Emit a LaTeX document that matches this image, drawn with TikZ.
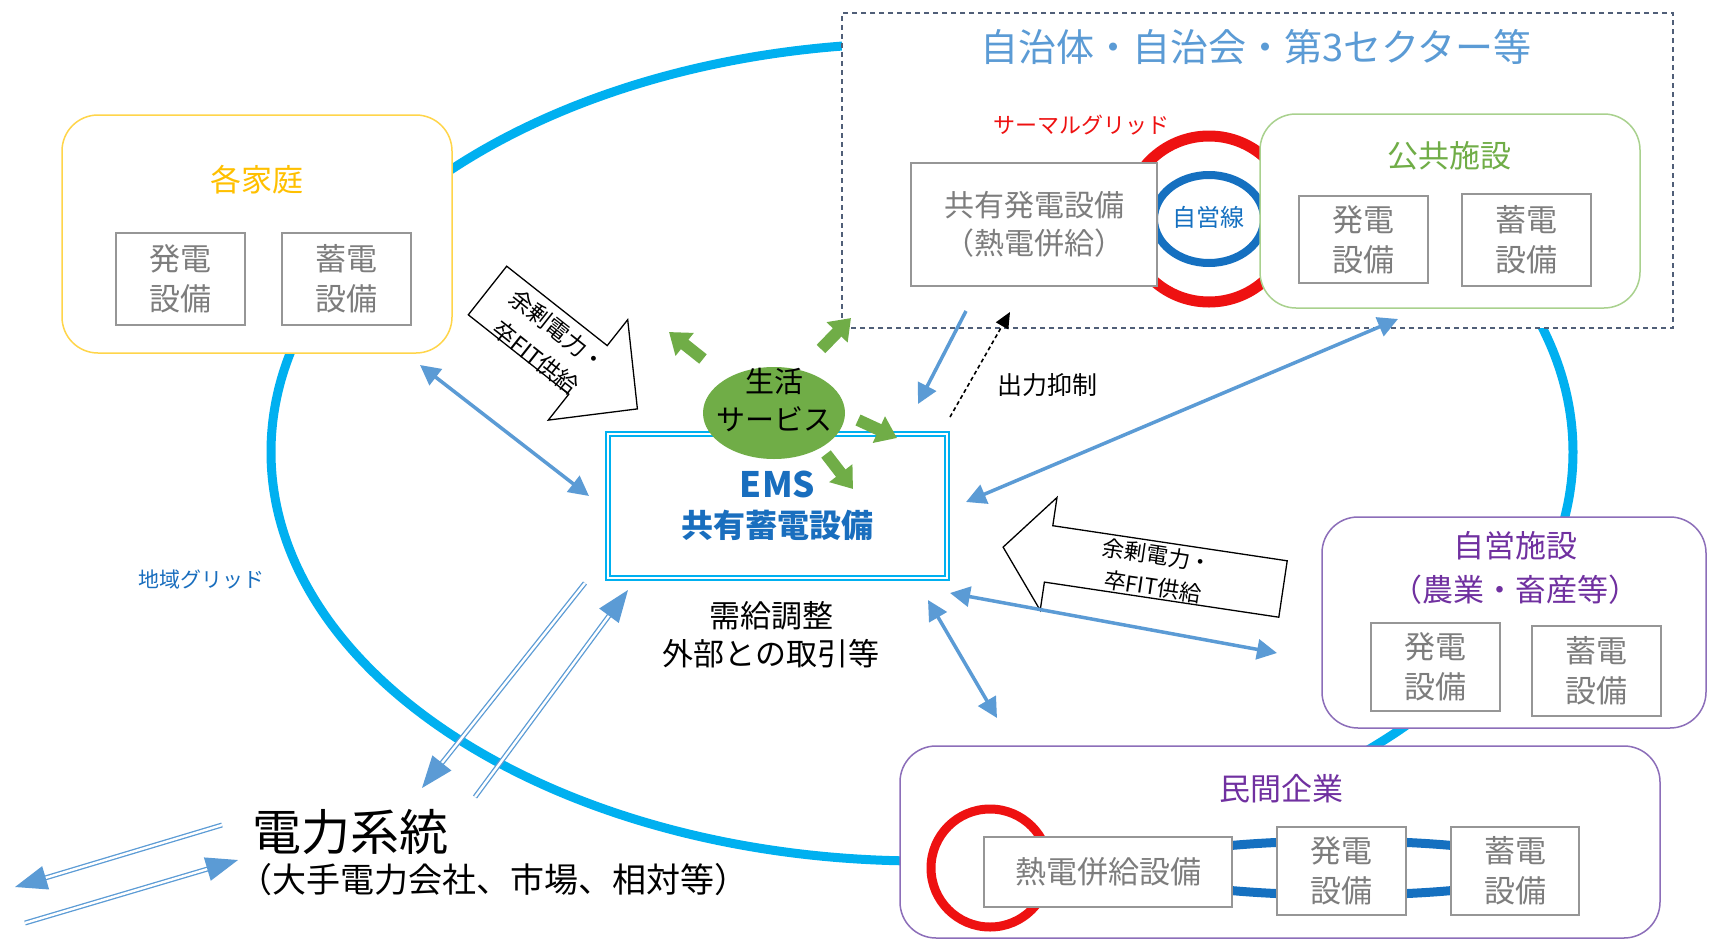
\documentclass[tikz,border=0pt]{standalone}
\usepackage{fontspec}
\setmainfont{Noto Sans CJK JP}
\usetikzlibrary{arrows.meta,shapes.geometric}
\newcommand{\myfs}[2]{\fontsize{#1}{#2}\selectfont}
\definecolor{gridcyan}{HTML}{00B0F0}
\definecolor{boxgrey}{RGB}{150,150,150}
\definecolor{txtgrey}{RGB}{125,125,125}
\definecolor{homeyel}{HTML}{FFD54A}
\definecolor{hometxt}{HTML}{FFC000}
\definecolor{pubgreen}{HTML}{A9D18E}
\definecolor{pubtxt}{HTML}{70AD47}
\definecolor{purpb}{RGB}{140,110,185}
\definecolor{purpt}{HTML}{7030A0}
\definecolor{titleblue}{HTML}{5B9BD5}
\definecolor{dashc}{RGB}{80,95,120}
\definecolor{ringred}{HTML}{EE1111}
\definecolor{ringblue}{HTML}{1570C0}
\definecolor{emsblue}{RGB}{25,110,190}
\definecolor{connblue}{HTML}{5B9BD5}
\definecolor{lifegreen}{HTML}{70AD47}
\begin{document}
\begin{tikzpicture}[x=1pt,y=-1pt,
  every node/.style={inner sep=0pt},
  gbox/.style={draw=boxgrey, line width=1.4pt, fill=white, text=txtgrey, align=center, font=\myfs{31}{40}},
  rbox/.style={rounded corners=36pt, fill=white, line width=1.5pt},
  conn/.style={draw=connblue, line width=3.5pt, >={Triangle[width=20pt,length=20pt]}},
  dbl/.style={draw=connblue, double=white, double distance=2.4pt, line width=1.3pt, -{Triangle[width=24pt,length=32pt]}},
  garr/.style={draw=lifegreen, line width=12pt, -{Triangle[width=28pt,length=20pt]}},
  supp/.style={draw=black, dash pattern=on 4pt off 3pt, line width=1.6pt, -{Triangle[width=14pt,length=16pt]}},
  blockarr/.style={draw=black, fill=white, line width=1.3pt, line join=miter}]
\fill[white] (0,0) rectangle (1709,940);
\useasboundingbox (0,0) rectangle (1709,940);

% regional grid
\draw[gridcyan, line width=9pt] (922,452) ellipse [x radius=651, y radius=409];

% municipality area
\node[draw=dashc, dash pattern=on 5pt off 4pt, line width=1.2pt, fill=white, minimum width=831pt, minimum height=315pt] (muni) at (1257.5,170.5) {};
\node[text=titleblue, font=\myfs{38}{44}] (munit) at (1256,47) {自治体・自治会・第3セクター等};
\draw[ringred, line width=11pt] (1209,219) circle [radius=83];
\draw[ringblue, line width=8pt] (1209,219) ellipse [x radius=55, y radius=44];
\node[text=ringblue, font=\myfs{24}{28}] (jiei) at (1208,217) {自営線};
\node[text=ringred, font=\myfs{22}{26}] (thermal) at (1081,125) {サーマルグリッド};
\node[gbox, minimum width=246pt, minimum height=123pt, font=\myfs{30}{38}] (share) at (1034,224.5) {共有発電設備\\（熱電併給）};
\node[rbox, draw=pubgreen, minimum width=380pt, minimum height=194pt] (pub) at (1450,211) {};
\node[text=pubtxt, font=\myfs{31}{36}] (pubt) at (1449,156) {公共施設};
\node[gbox, minimum width=129pt, minimum height=87pt] (pub1) at (1363.5,239.5) {発電\\設備};
\node[gbox, minimum width=129pt, minimum height=92pt] (pub2) at (1526.5,240) {蓄電\\設備};

% households
\node[rbox, draw=homeyel, minimum width=390pt, minimum height=238pt] (home) at (257,234) {};
\node[text=hometxt, font=\myfs{31}{36}] (homet) at (257,180) {各家庭};
\node[gbox, minimum width=129pt, minimum height=92pt] (home1) at (180.5,279) {発電\\設備};
\node[gbox, minimum width=129pt, minimum height=92pt] (home2) at (346.5,279) {蓄電\\設備};

% self-operated facility
\node[rbox, draw=purpb, minimum width=384pt, minimum height=211pt] (self) at (1514,622.5) {};
\node[text=purpt, font=\myfs{31}{44}, align=center] (selft) at (1515,568) {自営施設\\（農業・畜産等）};
\node[gbox, minimum width=129pt, minimum height=88pt] (self1) at (1435.5,667) {発電\\設備};
\node[gbox, minimum width=129pt, minimum height=90pt] (self2) at (1596.5,671) {蓄電\\設備};

% private company
\node[rbox, draw=purpb, minimum width=760pt, minimum height=192pt] (priv) at (1280,842) {};
\node[text=purpt, font=\myfs{31}{36}] (privt) at (1281,789) {民間企業};
\draw[ringred, line width=9pt] (990,868) circle [radius=59];
\draw[ringblue, line width=9pt] (1341.5,868) ellipse [x radius=200, y radius=27];
\node[gbox, minimum width=248pt, minimum height=70pt] (chp) at (1108,872) {熱電併給設備};
\node[gbox, minimum width=129pt, minimum height=88pt] (priv1) at (1341.5,871) {発電\\設備};
\node[gbox, minimum width=128pt, minimum height=88pt] (priv2) at (1515,871) {蓄電\\設備};

% EMS
\node[draw=gridcyan, double=white, double distance=2.5pt, line width=1.6pt, fill=white, minimum width=339pt, minimum height=144pt, text=emsblue, font=\myfs{32}{40}\bfseries, align=center] (ems) at (777.5,506) {{\myfs{35}{40}EMS}\\共有蓄電設備};

% life services
\node[ellipse, fill=lifegreen, minimum width=142pt, minimum height=92pt] (life) at (774,413) {};
\node[font=\myfs{29}{38}, align=center] (lifet) at (774,400) {生活\\サービス};
\coordinate (g1a) at (703,359); \coordinate (g1b) at (669,332);
\coordinate (g2a) at (821,349); \coordinate (g2b) at (851,318);
\coordinate (g3a) at (858,420); \coordinate (g3b) at (897,438);
\coordinate (g4a) at (826,454); \coordinate (g4b) at (853,489);
\draw[garr] (g1a) -- (g1b);
\draw[garr] (g2a) -- (g2b);
\draw[garr] (g3a) -- (g3b);
\draw[garr] (g4a) -- (g4b);

% connectors
\coordinate (c1a) at (420,365); \coordinate (c1b) at (589,496);
\coordinate (c2a) at (966,311); \coordinate (c2b) at (918,404);
\coordinate (c3a) at (1010,312); \coordinate (c3b) at (950,417);
\coordinate (c4a) at (966,502); \coordinate (c4b) at (1398,319);
\coordinate (c5a) at (950,593); \coordinate (c5b) at (1277,653);
\coordinate (c6a) at (928,600); \coordinate (c6b) at (997,718);
\coordinate (d1a) at (585,583); \coordinate (d1b) at (422,788);
\coordinate (d2a) at (475,797); \coordinate (d2b) at (628,590);
\coordinate (d3a) at (222,825); \coordinate (d3b) at (15,887);
\coordinate (d4a) at (25,923); \coordinate (d4b) at (238,860);

% block arrows
\draw[blockarr] (506.7,266.2) -- (607.2,345.6) -- (627.7,319.7) -- (637.4,408.9) -- (548.3,420.1) -- (568.8,394.2) -- (468.3,314.8) -- cycle;
\node[rotate=-38.3, font=\myfs{23}{35}, align=center] (surp1) at (547,344) {余剰電力・\\卒FIT供給};
\draw[blockarr] (1287.2,560.8) -- (1052.8,525.7) -- (1057.0,497.5) -- (1003.1,547.1) -- (1040.2,610.3) -- (1044.4,582.1) -- (1278.8,617.2) -- cycle;
\node[rotate=-8.5, font=\myfs{22}{32}, align=center] (surp2) at (1155,571) {余剰電力・\\卒FIT供給};

\draw[conn,<->] (c1a) -- (c1b);
\draw[conn,->] (c2a) -- (c2b);
\draw[supp] (c3b) -- (c3a);
\draw[conn,<->] (c4a) -- (c4b);
\draw[conn,<->] (c5a) -- (c5b);
\draw[conn,<->] (c6a) -- (c6b);
\draw[dbl] (d1a) -- (d1b);
\draw[dbl] (d2a) -- (d2b);
\draw[dbl] (d3a) -- (d3b);
\draw[dbl] (d4a) -- (d4b);

% texts
\node[font=\myfs{31}{38}, align=center] (adj) at (771,635) {需給調整\\外部との取引等};
\node[font=\myfs{25}{30}] (supt) at (1047,385) {出力抑制};
\node[text=emsblue, font=\myfs{21}{25}] (gridt) at (201,580) {地域グリッド};
\node[font=\myfs{49}{54}, anchor=west] (grid) at (252,832) {電力系統};
\node[font=\myfs{34}{40}, anchor=west] (gridsub) at (238,880) {（大手電力会社、市場、相対等）};
\end{tikzpicture}
\end{document}
